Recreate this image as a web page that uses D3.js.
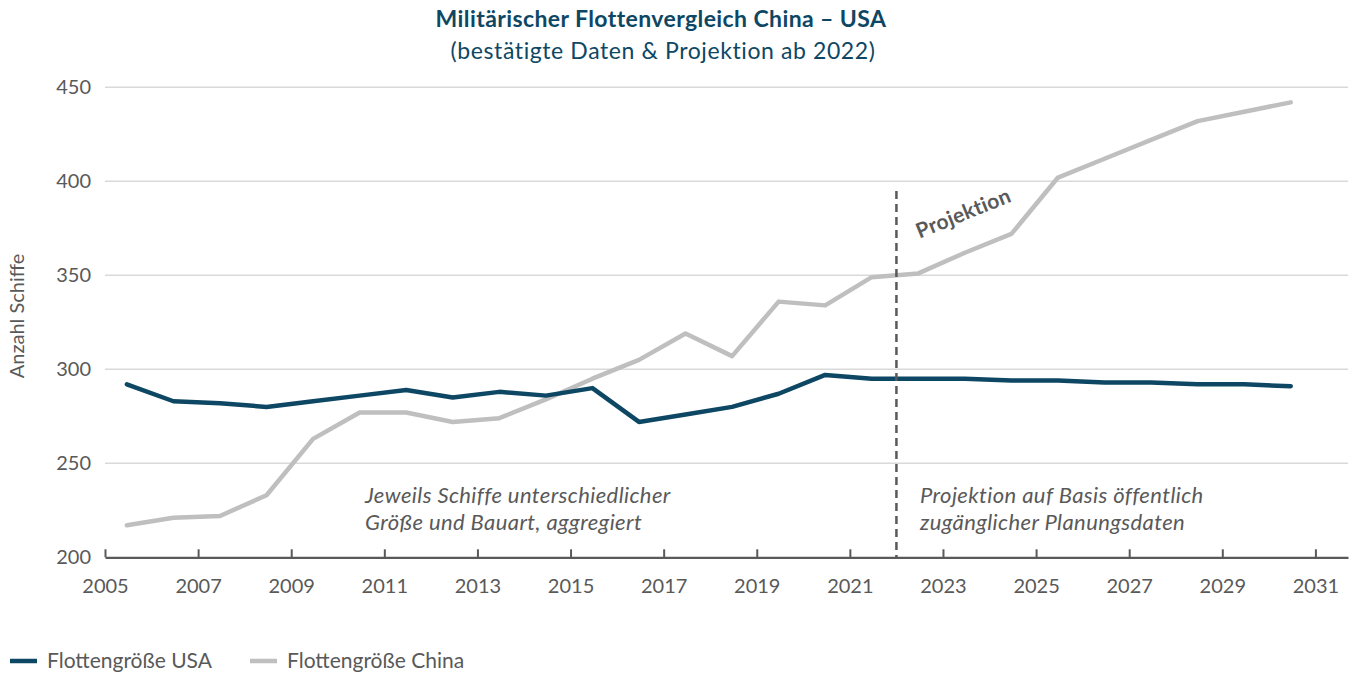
<!DOCTYPE html>
<meta charset="utf-8">
<style>
  body { margin: 0; background: #fff; }
  svg text { font-family: Lato, "Open Sans", sans-serif; }
</style>
<svg width="1355" height="673"></svg>
<script src="https://d3js.org/d3.v7.min.js"></script>
<script>

// Jahre (Datenpunkte liegen jeweils zur Jahresmitte)
var years = [2005, 2006, 2007, 2008, 2009, 2010, 2011, 2012, 2013, 2014, 2015, 2016, 2017,
             2018, 2019, 2020, 2021, 2022, 2023, 2024, 2025, 2026, 2027, 2028, 2029, 2030];

var usa = [292, 283, 282, 280, 283, 286, 289, 285, 288, 286, 290, 272, 276,
           280, 287, 297, 295, 295, 295, 294, 294, 293, 293, 292, 292, 291];

var china = [217, 221, 222, 233, 263, 277, 277, 272, 274, 284, 295, 305, 319,
             307, 336, 334, 349, 351, 362, 372, 402, 412, 422, 432, 437, 442];

var yTicks = [200, 250, 300, 350, 400, 450];
var xTicks = [2005, 2007, 2009, 2011, 2013, 2015, 2017, 2019, 2021, 2023, 2025, 2027, 2029, 2031];
var projectionStart = 2022;

var svg = d3.select("svg");

var teal = "#0d4764",
    grey = "#bfbfbf",
    textGrey = "#595959";

var x = d3.scaleLinear().domain([2005, 2031.7]).range([105, 1348]);
var y = d3.scaleLinear().domain([200, 450]).range([557.3, 87.3]);

// Titel
svg.append("text")
    .attr("x", 661).attr("y", 27)
    .attr("text-anchor", "middle")
    .attr("fill", teal)
    .style("font-size", "23px")
    .style("letter-spacing", "0.4px")
    .style("font-weight", "bold")
    .text("Militärischer Flottenvergleich China – USA");

svg.append("text")
    .attr("x", 663).attr("y", 59)
    .attr("text-anchor", "middle")
    .attr("fill", teal)
    .style("font-size", "23px")
    .style("letter-spacing", "0.6px")
    .text("(bestätigte Daten & Projektion ab 2022)");

// Gitternetz
svg.append("g")
  .selectAll("line")
  .data(yTicks.slice(1))
  .enter().append("line")
    .attr("x1", x(2005)).attr("x2", 1348)
    .attr("y1", function(d) { return y(d); })
    .attr("y2", function(d) { return y(d); })
    .attr("stroke", "#d9d9d9")
    .attr("stroke-width", 1.5);

// Y-Achse (nur Beschriftung)
var yAxis = svg.append("g")
    .attr("transform", "translate(" + (x(2005) - 14) + ",0)")
    .call(d3.axisLeft(y).tickValues(yTicks).tickSize(0).tickPadding(0));
yAxis.select(".domain").remove();
yAxis.selectAll("text")
    .attr("fill", textGrey)
    .style("font-size", "20px")
    .style("font-family", "Lato, sans-serif");

// X-Achse, Ticks nach innen
var xAxis = svg.append("g")
    .attr("transform", "translate(0," + y(200) + ")")
    .call(d3.axisBottom(x).tickValues(xTicks).tickFormat(d3.format("d"))
      .tickSizeInner(-8).tickSizeOuter(0).tickPadding(22));
xAxis.select(".domain").attr("stroke", textGrey).attr("stroke-width", 2.2);
xAxis.selectAll(".tick line").attr("stroke", textGrey).attr("stroke-width", 2);
xAxis.selectAll("text")
    .attr("fill", textGrey)
    .style("font-size", "20px")
    .style("font-family", "Lato, sans-serif");

// Achsentitel
svg.append("text")
    .attr("transform", "translate(24,316) rotate(-90)")
    .attr("text-anchor", "middle")
    .attr("fill", textGrey)
    .style("font-size", "20px")
    .text("Anzahl Schiffe");

// Linien
var line = d3.line()
    .x(function(d) { return x(d[0] + 0.47); })
    .y(function(d) { return y(d[1]); });

svg.append("path")
    .datum(d3.zip(years, china))
    .attr("d", line)
    .attr("fill", "none")
    .attr("stroke", grey)
    .attr("stroke-width", 4.5)
    .attr("stroke-linejoin", "round")
    .attr("stroke-linecap", "round");

svg.append("path")
    .datum(d3.zip(years, usa))
    .attr("d", line)
    .attr("fill", "none")
    .attr("stroke", teal)
    .attr("stroke-width", 4.5)
    .attr("stroke-linejoin", "round")
    .attr("stroke-linecap", "round");

// Projektions-Grenze
svg.append("line")
    .attr("x1", x(projectionStart)).attr("x2", x(projectionStart))
    .attr("y1", 191).attr("y2", y(200))
    .attr("stroke", textGrey)
    .attr("stroke-width", 2.5)
    .attr("stroke-dasharray", "8,5");

svg.append("text")
    .attr("transform", "translate(966,220) rotate(-22)")
    .attr("text-anchor", "middle")
    .attr("fill", textGrey)
    .style("font-size", "21px")
    .style("font-weight", "bold")
    .style("letter-spacing", "0.3px")
    .text("Projektion");

// Anmerkungen
var notes = [
  { x: 365, lines: ["Jeweils Schiffe unterschiedlicher", "Größe und Bauart, aggregiert"] },
  { x: 920, lines: ["Projektion auf Basis öffentlich", "zugänglicher Planungsdaten"] }
];
notes.forEach(function(n) {
  n.lines.forEach(function(t, i) {
    svg.append("text")
        .attr("x", n.x).attr("y", 503 + i * 27)
        .attr("fill", textGrey)
        .style("font-size", "22px")
        .style("letter-spacing", "0.4px")
        .style("font-style", "italic")
        .text(t);
  });
});

// Legende
var legend = svg.append("g").attr("transform", "translate(0,661)");
[["Flottengröße USA", teal, 10], ["Flottengröße China", grey, 250]].forEach(function(l) {
  legend.append("line")
      .attr("x1", l[2]).attr("x2", l[2] + 27)
      .attr("stroke", l[1]).attr("stroke-width", 4.5);
  legend.append("text")
      .attr("x", l[2] + 37).attr("y", 7)
      .attr("fill", textGrey)
      .style("font-size", "21px")
      .text(l[0]);
});

</script>
